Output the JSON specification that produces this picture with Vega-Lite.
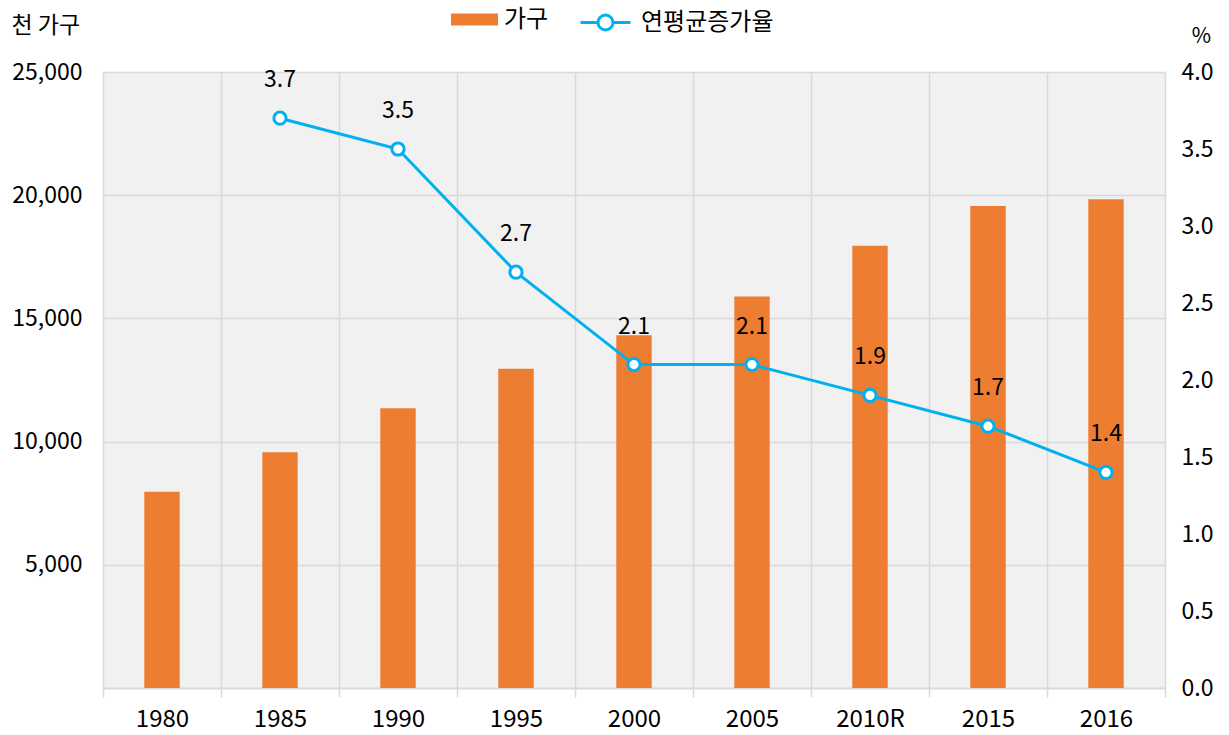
{
  "$schema": "https://vega.github.io/schema/vega-lite/v6.json",
  "width": 1062,
  "height": 616,
  "autosize": {"type": "none"},
  "padding": {"left": 103, "top": 72, "right": 64, "bottom": 47},
  "background": "white",
  "config": {
    "font": "Noto Sans CJK KR",
    "view": {"fill": "#f1f1f1", "stroke": null}
  },
  "data": {
    "values": [
      {"year": "1980", "households": 7969, "rate": null},
      {"year": "1985", "households": 9571, "rate": 3.7},
      {"year": "1990", "households": 11355, "rate": 3.5},
      {"year": "1995", "households": 12958, "rate": 2.7},
      {"year": "2000", "households": 14312, "rate": 2.1},
      {"year": "2005", "households": 15887, "rate": 2.1},
      {"year": "2010R", "households": 17950, "rate": 1.9},
      {"year": "2015", "households": 19561, "rate": 1.7},
      {"year": "2016", "households": 19838, "rate": 1.4}
    ]
  },
  "encoding": {
    "x": {
      "field": "year", "type": "ordinal", "sort": null,
      "scale": {"paddingInner": 0, "paddingOuter": 0},
      "axis": {"title": null, "labelAngle": 0, "tickBand": "extent", "grid": true, "gridColor": "#d9d9d9", "gridWidth": 1.5, "tickSize": 9, "tickWidth": 1.5, "tickColor": "#d9d9d9", "domainColor": "#d9d9d9", "domainWidth": 2, "labelPadding": 10, "labelFont": "Noto Sans CJK KR", "labelFontSize": 24, "labelColor": "#000000"}
    }
  },
  "layer": [
    {
      "mark": {"type": "bar", "color": "#ed7d31", "width": {"band": 0.3}},
      "encoding": {
        "y": {
          "field": "households", "type": "quantitative",
          "scale": {"domain": [0, 25000]},
          "axis": {"title": "천 가구", "titleFont": "Noto Sans CJK KR", "titleFontSize": 23, "titleFontWeight": "normal", "titleColor": "#000000", "titleAngle": 0, "titleAlign": "left", "titleBaseline": "middle", "titleX": -92, "titleY": -47, "values": [5000, 10000, 15000, 20000, 25000], "format": ",.0f", "labelOverlap": false, "domain": false, "ticks": false, "labelPadding": 21, "grid": true, "gridColor": "#d9d9d9", "gridWidth": 1.5, "labelFont": "Noto Sans CJK KR", "labelFontSize": 23, "labelColor": "#000000"}
        },
        "fill": {
          "datum": "가구", "type": "nominal",
          "scale": {"range": ["#ed7d31"]},
          "legend": {"title": null, "orient": "none", "legendX": 348, "legendY": -76, "symbolType": "M-1,-0.26H1V0.26H-1Z", "symbolSize": 2209, "symbolStrokeWidth": 0, "labelFontSize": 24, "labelFont": "Noto Sans CJK KR", "labelColor": "#000000", "labelOffset": 6}
        }
      }
    },
    {
      "mark": {"type": "line", "strokeWidth": 3},
      "encoding": {
        "y": {
          "field": "rate", "type": "quantitative",
          "scale": {"domain": [0, 4]},
          "axis": {"orient": "right", "title": "%", "titleFont": "Noto Sans CJK KR", "titleFontSize": 21, "titleFontWeight": "normal", "titleColor": "#000000", "titleAngle": 0, "titleAlign": "center", "titleBaseline": "middle", "titleX": 36, "titleY": -36, "values": [0, 0.5, 1, 1.5, 2, 2.5, 3, 3.5, 4], "format": ".1f", "labelOverlap": false, "domain": false, "ticks": false, "grid": false, "labelPadding": 16, "labelFont": "Noto Sans CJK KR", "labelFontSize": 23, "labelColor": "#000000"}
        },
        "stroke": {
          "datum": "연평균증가율", "type": "nominal",
          "scale": {"range": ["#00b0f0"]},
          "legend": {"title": null, "orient": "none", "legendX": 476, "legendY": -76, "symbolType": "M-1,0H-0.3M0.3,0H1M-0.3,0A0.3,0.3 0 1 0 0.3,0A0.3,0.3 0 1 0 -0.3,0", "symbolSize": 2500, "symbolStrokeWidth": 3, "symbolFillColor": "white", "labelFontSize": 24, "labelFont": "Noto Sans CJK KR", "labelColor": "#000000", "labelOffset": 9}
        }
      }
    },
    {
      "mark": {"type": "point", "filled": true, "fill": "white", "stroke": "#00b0f0", "strokeWidth": 3, "size": 150, "opacity": 1},
      "encoding": {
        "y": {"field": "rate", "type": "quantitative", "scale": {"domain": [0, 4]}, "axis": null}
      }
    },
    {
      "mark": {"type": "text", "dy": -38, "fontSize": 23, "font": "Noto Sans CJK KR", "color": "#000000"},
      "encoding": {
        "y": {"field": "rate", "type": "quantitative", "scale": {"domain": [0, 4]}, "axis": null},
        "text": {"field": "rate", "type": "quantitative", "format": ".1f"}
      }
    }
  ],
  "resolve": {"scale": {"y": "independent"}}
}
